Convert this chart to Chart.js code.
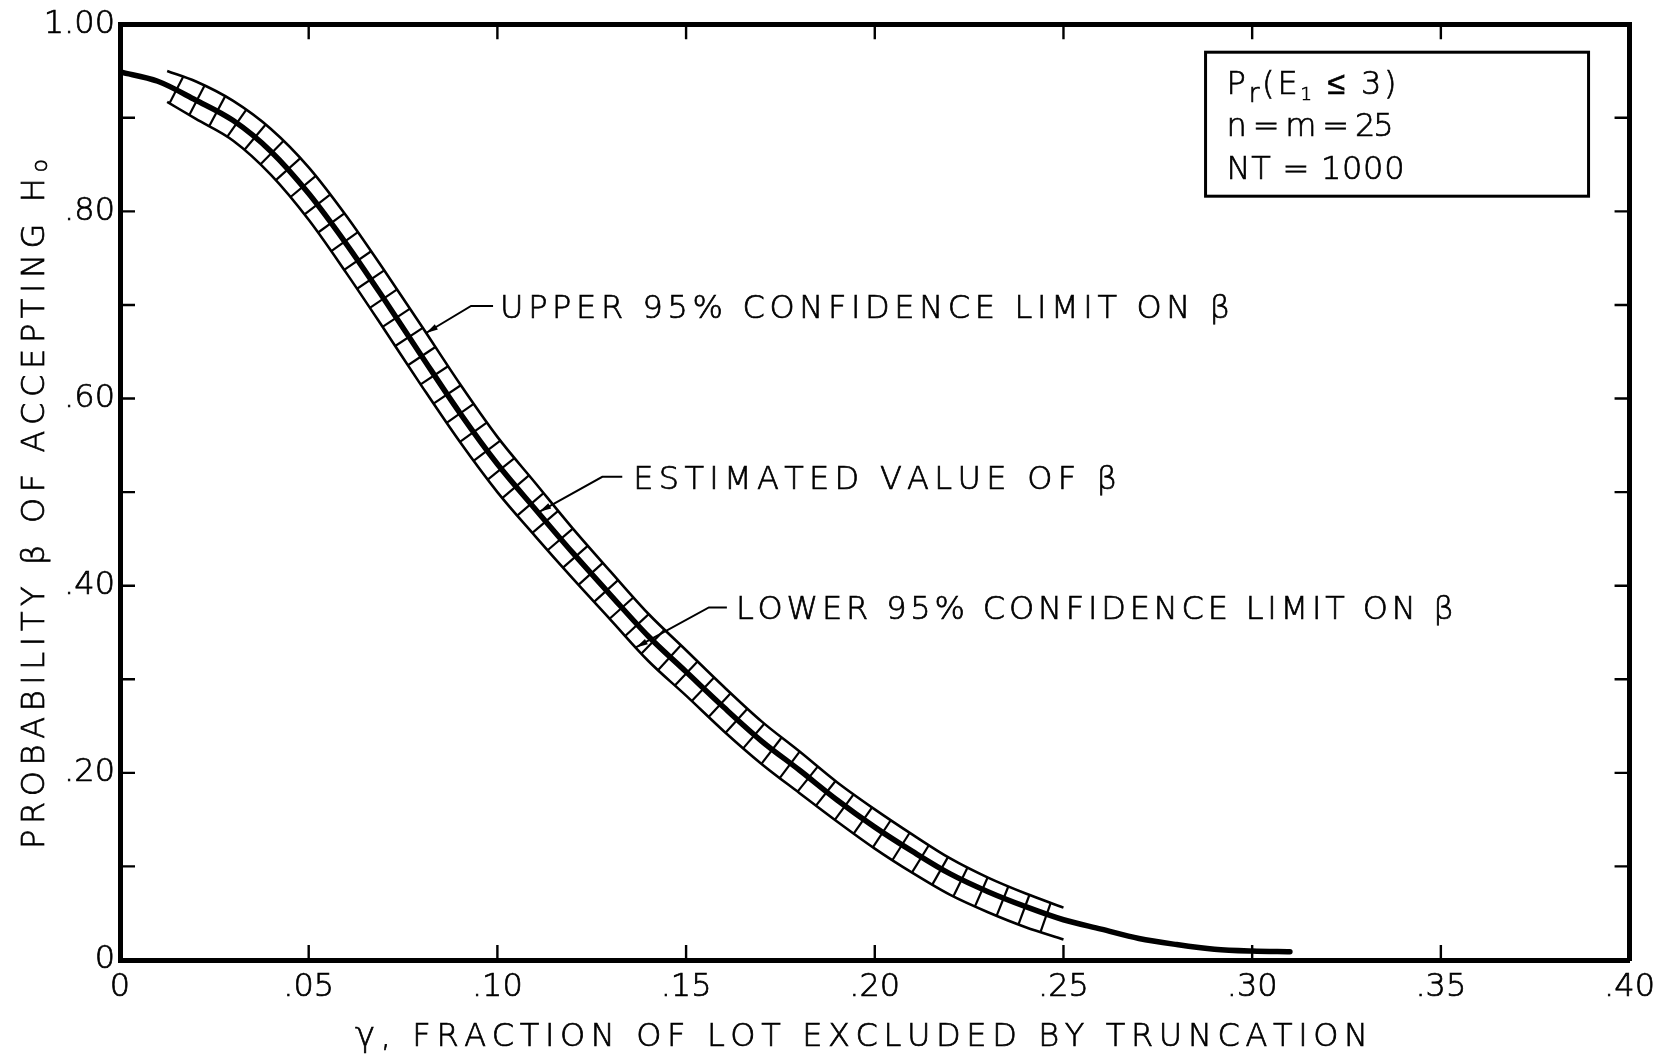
<!DOCTYPE html>
<html>
<head>
<meta charset="utf-8">
<script src="https://cdn.jsdelivr.net/npm/chart.js@4.4.1/dist/chart.umd.min.js"></script>
<style>
  html, body { margin: 0; padding: 0; background: #fff; }
</style>
</head>
<body>
<canvas id="beta" width="1663" height="1060"></canvas>
<script>
// estimated beta vs. gamma (fraction of lot excluded by truncation)
const estX = [0, 0.01, 0.02, 0.03, 0.04, 0.05, 0.06, 0.07, 0.08, 0.09, 0.10, 0.11, 0.12, 0.13, 0.14, 0.15,
  0.16, 0.17, 0.18, 0.19, 0.20, 0.21, 0.22, 0.23, 0.24, 0.25, 0.26, 0.27, 0.28, 0.29, 0.30, 0.31];
const estBeta = [0.949, 0.939, 0.919, 0.897, 0.864, 0.819, 0.765, 0.706, 0.645, 0.585, 0.530, 0.482, 0.435, 0.390, 0.346, 0.308,
  0.270, 0.234, 0.203, 0.171, 0.142, 0.116, 0.092, 0.073, 0.057, 0.043, 0.033, 0.023, 0.0165, 0.0115, 0.0095, 0.0088];

// 95% confidence band
const bandX = [0.0125, 0.02, 0.03, 0.04, 0.05, 0.06, 0.07, 0.08, 0.09, 0.10, 0.11, 0.12, 0.13,
  0.14, 0.15, 0.16, 0.17, 0.18, 0.19, 0.20, 0.21, 0.22, 0.23, 0.24, 0.25];
const upperBeta = [0.950, 0.939, 0.918, 0.888, 0.847, 0.795, 0.737, 0.677, 0.616, 0.559, 0.510, 0.461, 0.415,
  0.370, 0.331, 0.292, 0.255, 0.223, 0.190, 0.161, 0.134, 0.1085, 0.088, 0.071, 0.056];
const lowerBeta = [0.917, 0.899, 0.8755, 0.839, 0.791, 0.734, 0.674, 0.613, 0.554, 0.500, 0.453, 0.4075, 0.3635,
  0.3195, 0.2825, 0.2445, 0.2095, 0.1785, 0.148, 0.119, 0.093, 0.0695, 0.051, 0.035, 0.022];

const xTickValues = [0, 0.05, 0.10, 0.15, 0.20, 0.25, 0.30, 0.35, 0.40];
const xTickLabels = ['0', '.05', '.10', '.15', '.20', '.25', '.30', '.35', '.40'];
const yTickValues = [0, 0.1, 0.2, 0.3, 0.4, 0.5, 0.6, 0.7, 0.8, 0.9, 1.0];
const yTickLabels = ['0', '', '.20', '', '.40', '', '.60', '', '.80', '', '1.00'];

// callouts: text and where the leader touches its curve
const noteText = ['UPPER 95% CONFIDENCE LIMIT ON β', 'ESTIMATED VALUE OF β', 'LOWER 95% CONFIDENCE LIMIT ON β'];
const noteTipX = [0.0811, 0.1111, 0.1367];
const noteTipBeta = [0.670, 0.479, 0.334];

const boxLines = ['Pr(E1 ≤ 3)', 'n = m = 25', 'NT = 1000'];

const ink = '#000';
const FONT = '"DejaVu Sans", sans-serif';
const WEIGHT = '200';

function setFont(ctx, size) {
  ctx.font = `${WEIGHT} ${size}px ${FONT}`;
}

// draw runs of [text, size, dy] char by char, stretched to a given width
function drawRuns(ctx, runs, x, y, width) {
  let natural = 0, n = 0;
  for (const [t, size] of runs) {
    setFont(ctx, size);
    for (const ch of t) { natural += ctx.measureText(ch).width; n++; }
  }
  const gap = n > 1 ? (width - natural) / (n - 1) : 0;
  let cx = x;
  ctx.lineWidth = 0.7;
  for (const [t, size, dy] of runs) {
    setFont(ctx, size);
    for (const ch of t) {
      ctx.fillText(ch, cx, y + dy);
      ctx.strokeText(ch, cx, y + dy);
      cx += ctx.measureText(ch).width + gap;
    }
  }
}

// points along the drawn (bezier) path of a line dataset
function sampleLine(meta, area) {
  meta.dataset.updateControlPoints(area, 'x');
  const p = meta.data;
  const out = [];
  for (let i = 0; i < p.length - 1; i++) {
    const a = p[i], b = p[i + 1];
    const c1x = a.cp2x ?? a.x, c1y = a.cp2y ?? a.y, c2x = b.cp1x ?? b.x, c2y = b.cp1y ?? b.y;
    for (let k = 0; k < 16; k++) {
      const t = k / 16, u = 1 - t;
      out.push([
        u * u * u * a.x + 3 * u * u * t * c1x + 3 * u * t * t * c2x + t * t * t * b.x,
        u * u * u * a.y + 3 * u * u * t * c1y + 3 * u * t * t * c2y + t * t * t * b.y
      ]);
    }
  }
  const z = p[p.length - 1];
  out.push([z.x, z.y]);
  return out;
}

function hitRay(px, py, nx, ny, poly) {
  let best = null;
  for (let i = 0; i < poly.length - 1; i++) {
    const [ax, ay] = poly[i], [bx, by] = poly[i + 1];
    const dx = bx - ax, dy = by - ay;
    const den = nx * dy - ny * dx;
    if (Math.abs(den) < 1e-9) continue;
    const qx = ax - px, qy = ay - py;
    const t = (qx * dy - qy * dx) / den;
    const u = (qx * ny - qy * nx) / den;
    if (u >= 0 && u <= 1 && t > 0 && t < 80 && (!best || t < best.t)) {
      best = { t, x: px + t * nx, y: py + t * ny };
    }
  }
  return best;
}

// cross rungs between the confidence limits, square to the estimate
const ladder = {
  id: 'ladder',
  beforeDatasetsDraw(chart) {
    const area = chart.chartArea;
    const up = sampleLine(chart.getDatasetMeta(0), area);
    const lo = sampleLine(chart.getDatasetMeta(1), area);
    const mid = sampleLine(chart.getDatasetMeta(2), area);
    const xs = chart.scales.x;
    const x0 = xs.getPixelForValue(bandX[0]);
    const x1 = xs.getPixelForValue(bandX[bandX.length - 1]);
    const spacing = 23;
    const ctx = chart.ctx;
    ctx.save();
    ctx.strokeStyle = ink;
    ctx.lineWidth = 2.2;
    let s = 0, next = null;
    for (let i = 0; i < mid.length - 1; i++) {
      const [ax, ay] = mid[i], [bx, by] = mid[i + 1];
      const len = Math.hypot(bx - ax, by - ay);
      if (ax < x0) continue;
      if (next === null) next = s + spacing * 0.45;
      while (next <= s + len) {
        const f = (next - s) / len;
        const px = ax + f * (bx - ax), py = ay + f * (by - ay);
        if (px > x1 - 4) break;
        const tx = (bx - ax) / len, ty = (by - ay) / len;
        const a = hitRay(px, py, ty, -tx, up);
        const b = hitRay(px, py, -ty, tx, lo);
        if (a && b) {
          ctx.beginPath();
          ctx.moveTo(a.x, a.y);
          ctx.lineTo(b.x, b.y);
          ctx.stroke();
        }
        next += spacing;
      }
      s += len;
    }
    ctx.restore();
  }
};

const decor = {
  id: 'decor',
  afterDraw(chart) {
    const ctx = chart.ctx;
    const { left, right, top, bottom } = chart.chartArea;
    const xs = chart.scales.x, ys = chart.scales.y;
    ctx.save();
    ctx.strokeStyle = ink;
    ctx.fillStyle = ink;

    // inward tick marks on all four sides
    ctx.lineWidth = 2.4;
    const tl = 15;
    xTickValues.slice(1, -1).forEach(v => {
      const px = xs.getPixelForValue(v);
      ctx.beginPath();
      ctx.moveTo(px, bottom); ctx.lineTo(px, bottom - tl);
      ctx.moveTo(px, top); ctx.lineTo(px, top + tl);
      ctx.stroke();
    });
    yTickValues.slice(1, -1).forEach(v => {
      const py = ys.getPixelForValue(v);
      ctx.beginPath();
      ctx.moveTo(left, py); ctx.lineTo(left + tl, py);
      ctx.moveTo(right, py); ctx.lineTo(right - tl, py);
      ctx.stroke();
    });

    // callouts with leaders
    const bends = [[45, -27], [63, -35], [73, -40]];
    const stems = [22, 20, 18];
    const gaps = [7, 11, 9];
    const widths = [730, 484, 718];
    ctx.textBaseline = 'alphabetic';
    noteText.forEach((t, i) => {
      const tx = xs.getPixelForValue(noteTipX[i]);
      const ty = ys.getPixelForValue(noteTipBeta[i]);
      const bx = tx + bends[i][0], by = ty + bends[i][1];
      const ex = bx + stems[i];
      ctx.lineWidth = 2;
      ctx.beginPath();
      ctx.moveTo(tx, ty); ctx.lineTo(bx, by); ctx.lineTo(ex, by);
      ctx.stroke();
      // small arrowhead at the curve
      const ang = Math.atan2(ty - by, tx - bx);
      ctx.beginPath();
      ctx.moveTo(tx, ty);
      ctx.lineTo(tx - 12 * Math.cos(ang) + 3 * Math.sin(ang), ty - 12 * Math.sin(ang) - 3 * Math.cos(ang));
      ctx.lineTo(tx - 12 * Math.cos(ang) - 3 * Math.sin(ang), ty - 12 * Math.sin(ang) + 3 * Math.cos(ang));
      ctx.closePath();
      ctx.fill();
      drawRuns(ctx, [[t, 32, 0]], ex + gaps[i], by + 12, widths[i]);
    });

    // parameter box
    const bx0 = right - 424, by0 = top + 28;
    ctx.lineWidth = 3;
    ctx.strokeRect(bx0, by0, 383, 144);
    const tx0 = bx0 + 21;
    drawRuns(ctx, [['P', 32, 0], ['r', 26, 8], ['(E', 32, 0], ['1', 18, 6], [' ≤ 3)', 32, 0]], tx0, by0 + 42, 170);
    drawRuns(ctx, [[boxLines[1], 32, 0]], tx0, by0 + 84, 167);
    drawRuns(ctx, [[boxLines[2], 32, 0]], tx0, by0 + 127, 178);

    // axis titles
    drawRuns(ctx, [['γ', 34, 0], [', FRACTION OF LOT EXCLUDED BY TRUNCATION', 32, 0]], 355, 1046, 1013);
    ctx.translate(32, 504);
    ctx.rotate(-Math.PI / 2);
    drawRuns(ctx, [['PROBABILITY β OF ACCEPTING H', 32, 0], ['o', 22, 3]], -345, 12, 690);
    ctx.restore();
  }
};

const pts = (xs, ys) => xs.map((x, i) => ({ x, y: ys[i] }));
const frame = { display: true, width: 5, color: ink };
const tickFont = { family: FONT, size: 32, weight: WEIGHT };

new Chart(document.getElementById('beta'), {
  type: 'line',
  data: {
    datasets: [
      { label: 'Upper 95% confidence limit', data: pts(bandX, upperBeta), borderColor: ink, borderWidth: 2.6,
        pointRadius: 0, cubicInterpolationMode: 'monotone', fill: false },
      { label: 'Lower 95% confidence limit', data: pts(bandX, lowerBeta), borderColor: ink, borderWidth: 2.6,
        pointRadius: 0, cubicInterpolationMode: 'monotone', fill: false },
      { label: 'Estimated value', data: pts(estX, estBeta), borderColor: ink, borderWidth: 5.5,
        borderCapStyle: 'round', pointRadius: 0, cubicInterpolationMode: 'monotone', fill: false }
    ]
  },
  options: {
    responsive: false,
    animation: false,
    layout: { padding: 0 },
    plugins: { legend: { display: false }, tooltip: { enabled: false } },
    scales: {
      x: {
        type: 'linear', position: 'bottom', min: 0, max: 0.4,
        afterBuildTicks: s => { s.ticks = xTickValues.map(value => ({ value })); },
        afterFit: s => { s.height = 100; },
        grid: { display: false, drawTicks: false },
        border: frame,
        ticks: { padding: 8, color: ink, font: tickFont, textStrokeColor: ink, textStrokeWidth: 0.7,
          maxRotation: 0, autoSkip: false, callback: (v, i) => xTickLabels[i] }
      },
      xTop: {
        type: 'linear', position: 'top', min: 0, max: 0.4,
        afterFit: s => { s.height = 20; },
        grid: { display: false, drawTicks: false },
        border: frame,
        ticks: { display: false }
      },
      y: {
        type: 'linear', position: 'left', min: 0, max: 1,
        afterBuildTicks: s => { s.ticks = yTickValues.map(value => ({ value })); },
        afterFit: s => { s.width = 120; },
        grid: { display: false, drawTicks: false },
        border: frame,
        ticks: { padding: 5, color: ink, font: tickFont, textStrokeColor: ink, textStrokeWidth: 0.7,
          autoSkip: false, callback: (v, i) => yTickLabels[i] }
      },
      yRight: {
        type: 'linear', position: 'right', min: 0, max: 1,
        afterFit: s => { s.width = 25; },
        grid: { display: false, drawTicks: false },
        border: frame,
        ticks: { display: false }
      }
    }
  },
  plugins: [ladder, decor]
});
</script>
</body>
</html>
